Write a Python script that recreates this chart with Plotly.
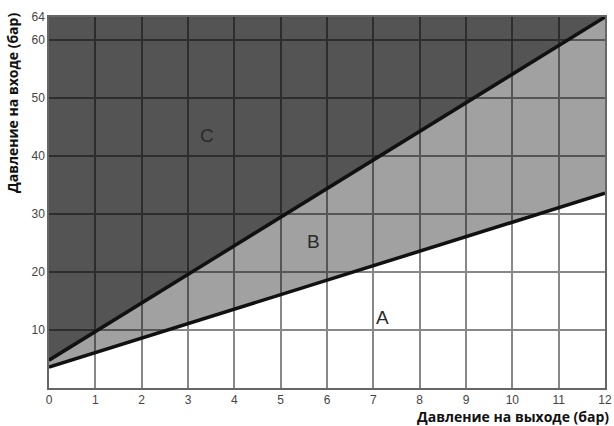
import plotly.graph_objects as go

# outlet pressure (bar) and the two boundary lines for inlet pressure (bar)
x_out = [0, 12]
lower_line = [3.6, 33.6]
upper_line = [4.8, 64]
top_line = [64, 64]

x_ticks = [0, 1, 2, 3, 4, 5, 6, 7, 8, 9, 10, 11, 12]
y_ticks = [10, 20, 30, 40, 50, 60, 64]

zones = ["A", "B", "C"]
zone_x = [7.2, 5.7, 3.4]
zone_y = [12.2, 25.3, 43.5]

title_font = dict(family="Open Sans, sans-serif", size=14, color="#111111", weight="bold")

fig = go.Figure()

# filled zones (semi transparent so the grid shows through)
fig.add_trace(go.Scatter(x=x_out, y=lower_line, mode="lines", line=dict(width=0),
                         showlegend=False, hoverinfo="skip"))
fig.add_trace(go.Scatter(x=x_out, y=upper_line, mode="lines", line=dict(width=0),
                         fill="tonexty", fillcolor="rgba(0,0,0,0.37)",
                         showlegend=False, hoverinfo="skip"))
fig.add_trace(go.Scatter(x=x_out, y=top_line, mode="lines", line=dict(width=0),
                         fill="tonexty", fillcolor="rgba(0,0,0,0.67)",
                         showlegend=False, hoverinfo="skip"))

# boundary lines on top
fig.add_trace(go.Scatter(x=x_out, y=lower_line, mode="lines",
                         line=dict(color="#111111", width=3.5), showlegend=False))
fig.add_trace(go.Scatter(x=x_out, y=upper_line, mode="lines",
                         line=dict(color="#111111", width=3.5), showlegend=False))

for name, zx, zy in zip(zones, zone_x, zone_y):
    fig.add_annotation(x=zx, y=zy, text=name, showarrow=False,
                       font=dict(size=19, color="#2a2a2a"))

# axis titles sit at the ends of the axes
fig.add_annotation(xref="paper", yref="paper", x=1.011, y=0, yshift=-17,
                   xanchor="right", yanchor="top", showarrow=False,
                   text="Давление на выходе (бар)", font=title_font)
fig.add_annotation(xref="paper", yref="paper", x=0, y=1, xshift=-37, yshift=6,
                   xanchor="center", yanchor="top", textangle=-90, showarrow=False,
                   text="Давление на входе (бар)", font=title_font)

fig.update_xaxes(range=[0, 12], tickvals=x_ticks, showgrid=True,
                 gridcolor="#888888", gridwidth=1.5, zeroline=False,
                 showline=True, linecolor="#666666", linewidth=1.5, mirror=True,
                 ticks="", tickfont=dict(size=12, color="#444444"))
fig.update_yaxes(range=[0, 64], tickvals=y_ticks, showgrid=True,
                 gridcolor="#888888", gridwidth=1.5, zeroline=False,
                 showline=True, linecolor="#666666", linewidth=1.5, mirror=True,
                 ticks="", tickfont=dict(size=12, color="#444444"))

fig.update_layout(width=614, height=426,
                  margin=dict(l=49, r=9, t=17, b=38, autoexpand=False),
                  paper_bgcolor="white", plot_bgcolor="white",
                  font=dict(family="Liberation Sans, Arial, sans-serif"))

fig.write_html("out.html", config={"displayModeBar": False},
               post_script="document.body.style.margin='0';")
